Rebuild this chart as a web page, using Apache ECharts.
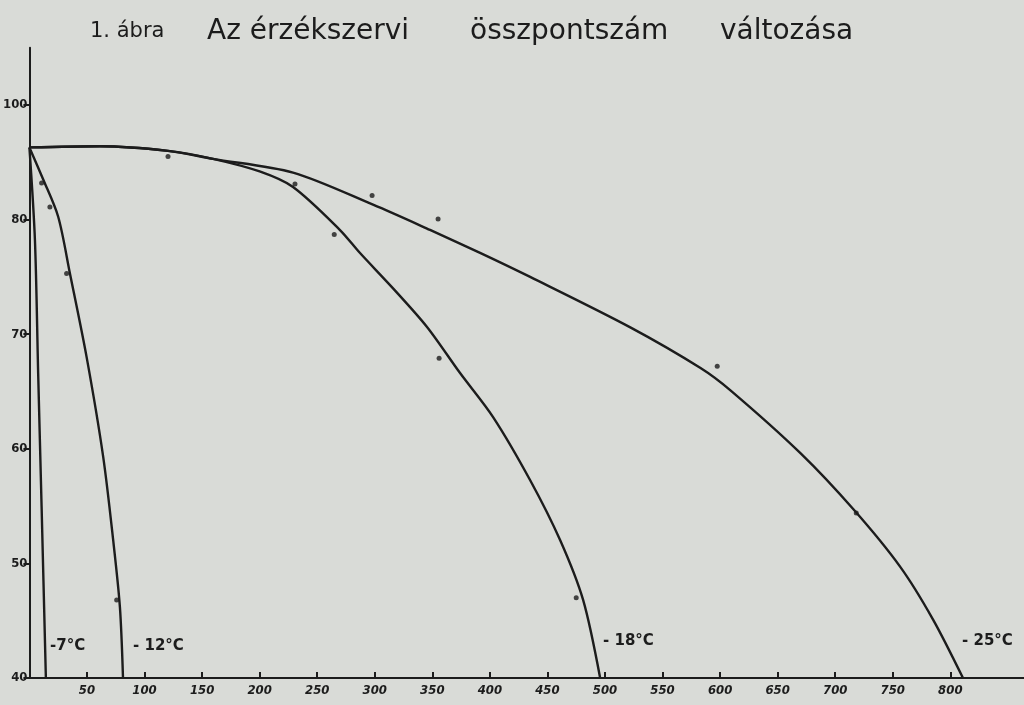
<!DOCTYPE html>
<html><head><meta charset="utf-8">
<script src="https://cdn.jsdelivr.net/npm/echarts@6/dist/echarts.min.js"></script>
<style>html,body{margin:0;padding:0;background:#d9dbd7}#c{width:1024px;height:705px}</style>
</head><body><div id="c"></div>
<script>
// x: storage time (days), y: total sensory score
const xTickValues = [50,100,150,200,250,300,350,400,450,500,550,600,650,700,750,800];
const yTickValues = [40,50,60,70,80,90];
const yTickLabels = ['40','50','60','70','80','100'];

const curveM7  = [[0,86.3],[4.8,78.2],[7.6,66.6],[10.6,54.9],[14.3,40]];
const curveM12 = [[0,86.3],[12.0,83.5],[25.0,80.25],[35.2,75.3],[49.7,68.0],[64.1,59.3],[72.8,52.0],[78.6,46.2],[81.3,40]];
const curveM18 = [[0,86.3],[61.3,86.4],[120.4,86.0],[159.5,85.3],[200,84.2],[229,82.84],[269.8,79.09],[287.2,77.08],[315.9,74.0],[345.4,70.63],[374.1,66.61],[402.8,62.77],[434.9,57.28],[461,52.04],[481,46.81],[495.8,40]];
const curveM25 = [[0,86.3],[61.3,86.4],[120.4,86.0],[159.5,85.3],[229,84.1],[298.5,81.3],[348,79.1],[391.5,77.1],[435,75.0],[522,70.6],[583,67.05],[609,65.1],[670,59.6],[716,54.7],[756.5,49.7],[785,45.1],[811,40]];

const dotsM12 = [[10.6,83.2],[17.8,81.1],[32.3,75.3],[75.8,46.8]];
const dotsM18 = [[264.8,78.7],[355.9,67.9],[475,47.0]];
const dotsM25 = [[120.4,85.5],[230.7,83.1],[297.7,82.1],[355,80.05],[597.5,67.2],[718.3,54.4]];

const curveLabels = ['-7°C','- 12°C','- 18°C','- 25°C'];
const titleParts = ['1. ábra','Az érzékszervi','összpontszám','változása'];

const ink = '#1c1c1c';
const chart = echarts.init(document.getElementById('c'));

function lineSeries(data){
  return {type:'line', data, smooth:0.3, symbol:'none', lineStyle:{color:ink,width:2.4}, z:3, silent:true};
}
function dotSeries(data){
  return {type:'scatter', data, symbolSize:5, itemStyle:{color:ink}, z:4, silent:true};
}
function txt(text, left, top, size, bold, family){
  return {type:'text', left, top, style:{text, fill:ink, fontSize:size, fontWeight:bold?'bold':'normal', fontFamily:family}};
}

chart.setOption({
  backgroundColor:'#d9dbd7',
  animation:false,
  grid:{left:28, right:0, top:47.7, bottom:27},
  xAxis:{
    type:'value', min:0, max:864, interval:50,
    axisLine:{lineStyle:{color:ink,width:2}},
    axisTick:{inside:true, length:6, lineStyle:{color:ink,width:2}, customValues:xTickValues},
    axisLabel:{customValues:xTickValues, color:ink, fontSize:13, fontWeight:'bold', fontStyle:'italic', fontFamily:'DejaVu Sans Condensed', margin:6},
    splitLine:{show:false}
  },
  yAxis:{
    type:'value', min:40, max:95, interval:10,
    axisLine:{show:true, lineStyle:{color:ink,width:2}},
    axisTick:{show:true, length:6, lineStyle:{color:ink,width:2}, customValues:yTickValues},
    axisLabel:{customValues:yTickValues, color:ink, fontSize:13, fontWeight:'bold', fontFamily:'DejaVu Sans Condensed', margin:2,
      formatter:function(v){const i=yTickValues.indexOf(v);return i>=0?yTickLabels[i]:'';}},
    splitLine:{show:false}
  },
  series:[
    lineSeries(curveM7), lineSeries(curveM12), lineSeries(curveM18), lineSeries(curveM25),
    dotSeries(dotsM12), dotSeries(dotsM18), dotSeries(dotsM25)
  ],
  graphic:[
    txt(titleParts[0], 90, 21, 21, false, 'DejaVu Sans'),
    txt(titleParts[1], 207, 18, 28, false, 'DejaVu Sans'),
    txt(titleParts[2], 470, 18, 28, false, 'DejaVu Sans'),
    txt(titleParts[3], 720, 18, 28, false, 'DejaVu Sans'),
    txt(curveLabels[0], 50, 639, 15, true, 'DejaVu Sans'),
    txt(curveLabels[1], 133, 639, 15, true, 'DejaVu Sans'),
    txt(curveLabels[2], 603, 634, 15, true, 'DejaVu Sans'),
    txt(curveLabels[3], 962, 634, 15, true, 'DejaVu Sans')
  ]
});
</script>
</body></html>
